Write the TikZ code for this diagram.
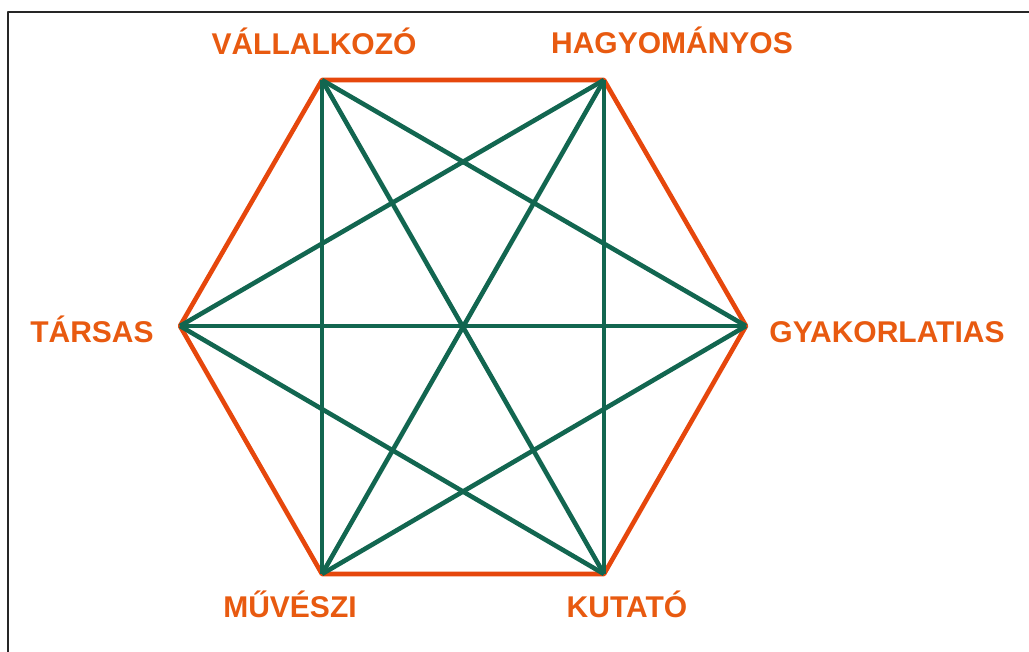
\documentclass[tikz,border=0pt]{standalone}
\usepackage{fontspec}
\setmainfont{Liberation Sans}
\usetikzlibrary{positioning}
\definecolor{Rim}{HTML}{E6470C}
\definecolor{Chord}{HTML}{126650}
\definecolor{Tag}{HTML}{E85A10}
\begin{document}
\begin{tikzpicture}[x=1pt,y=-1pt,line join=round,
  every node/.style={font=\fontsize{30}{34}\selectfont\bfseries,text=Tag,inner sep=0pt,anchor=base}]
\useasboundingbox (0,0) rectangle (1029,652);
\draw[line width=2.2pt,black!85] (1029,12)--(8,12)--(8,652);
% corners of the hexagon
\coordinate (v) at (322,80);
\coordinate (h) at (604,80);
\coordinate (g) at (746,326);
\coordinate (k) at (604,574);
\coordinate (m) at (322,574);
\coordinate (t) at (180,326);
\draw[line width=4.6pt,Rim] (v)--(h)--(g)--(k)--(m)--(t)--cycle;
\foreach \a/\b in {v/m,v/k,v/g,h/t,h/m,h/k,t/g,t/k,g/m} {
 \draw[line width=4.6pt,Chord] (\a)--(\b);
}
\node (lv) at (314,55) {VÁLLALKOZÓ};
\node (lh) at (672,54) {HAGYOMÁNYOS};
\node (lt) at (92,343) {TÁRSAS};
\node (lg) at (887,343) {GYAKORLATIAS};
\node (lm) at (290,617) {MŰVÉSZI};
\node (lk) at (627,617) {KUTATÓ};
\end{tikzpicture}
\end{document}
